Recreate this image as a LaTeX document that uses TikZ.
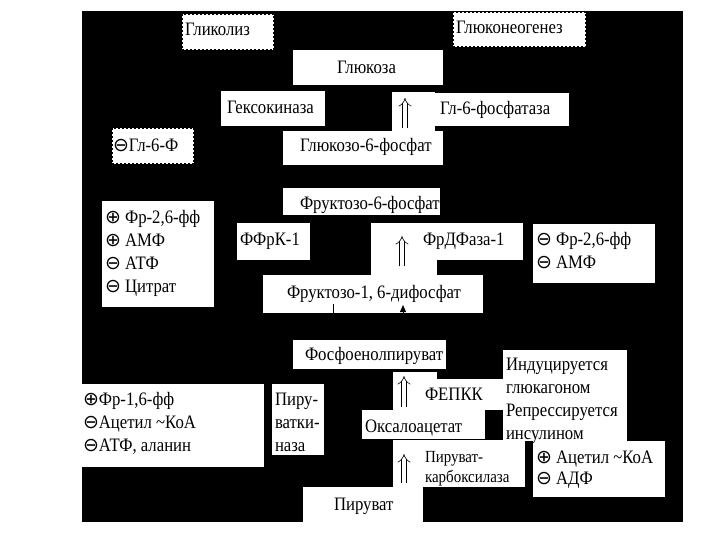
\documentclass[tikz,border=0pt]{standalone}
\usepackage{fontspec}
\setmainfont{Liberation Serif}[FakeStretch=0.88]
\newfontfamily\symf{DejaVu Sans}
\usetikzlibrary{arrows.meta}
\newcommand\pl{{\symf ⊕}}
\newcommand\mi{{\symf ⊖}}
\begin{document}
\begin{tikzpicture}[x=1pt,y=-1pt,
  font=\rmfamily\fontsize{19}{22}\selectfont,
  wbox/.style={fill=white, draw=none, inner sep=0pt, outer sep=0pt, anchor=north west},
  dbox/.style={wbox, draw=black, line width=1.4pt, dash pattern=on 2pt off 2pt},
  txt/.style={inner sep=0pt, outer sep=0pt, anchor=base west},
  small/.style={txt, font=\rmfamily\fontsize{17}{20}\selectfont},
  uparr/.style={double, double distance=4pt, line width=0.6pt, -{Implies}},
  conn/.style={line width=1pt}]
\useasboundingbox (0,0) rectangle (720,540);
\node[fill=black, inner sep=0pt, outer sep=0pt, anchor=north west, minimum width=601pt, minimum height=511pt] (bg) at (82,11) {};
% boxes
\node[dbox, minimum width=92pt, minimum height=36pt] (glyc) at (182,14) {};
\node[dbox, minimum width=133pt, minimum height=35pt] (gng) at (453,12) {};
\node[wbox, minimum width=150pt, minimum height=35pt] (glc) at (293,50) {};
\node[wbox, minimum width=104pt, minimum height=35pt] (hk) at (221,91) {};
\node[wbox, minimum width=43pt, minimum height=39pt] (g6pa) at (392,92) {};
\node[wbox, minimum width=144pt, minimum height=33pt] (g6pb) at (425,93) {};
\node[wbox, minimum width=160pt, minimum height=34pt] (g6p) at (283,131) {};
\node[dbox, minimum width=82pt, minimum height=36pt] (inh) at (112,128) {};
\node[wbox, minimum width=157pt, minimum height=27pt] (f6p) at (283,188) {};
\node[wbox, minimum width=112pt, minimum height=106pt] (lreg) at (102,201) {};
\node[wbox, minimum width=73pt, minimum height=37pt] (pfk) at (237,223) {};
\node[wbox, minimum width=66pt, minimum height=52pt] (fbpa) at (371,223) {};
\node[wbox, minimum width=152pt, minimum height=37pt] (fbpb) at (371,223) {};
\node[wbox, minimum width=122pt, minimum height=59pt] (rreg) at (533,224) {};
\node[wbox, minimum width=220pt, minimum height=38pt] (f16) at (263,275) {};
\node[wbox, minimum width=153pt, minimum height=29pt] (pep) at (293,340) {};
\node[wbox, minimum width=124pt, minimum height=91pt] (ind) at (503,350) {};
\node[wbox, minimum width=182pt, minimum height=83pt] (lreg2) at (82,384) {};
\node[wbox, minimum width=52pt, minimum height=71pt] (pk) at (272,384) {};
\node[wbox, minimum width=44pt, minimum height=40pt] (pepcka) at (393,372) {};
\node[wbox, minimum width=78pt, minimum height=31pt] (pepckb) at (425,379) {};
\node[wbox, minimum width=123pt, minimum height=29pt] (oaa) at (362,410) {};
\node[wbox, minimum width=132pt, minimum height=47pt] (pc) at (393,440) {};
\node[wbox, minimum width=132pt, minimum height=56pt] (rreg2) at (533,441) {};
\node[wbox, minimum width=120pt, minimum height=36pt] (pyr) at (303,487) {};
% texts
\node[txt] (t1) at (185,36) {Гликолиз};
\node[txt] (t2) at (456,34) {Глюконеогенез};
\node[txt] (t3) at (337,74) {Глюкоза};
\node[txt] (t4) at (227,114) {Гексокиназа};
\node[txt] (t5) at (440,115) {Гл-6-фосфатаза};
\node[txt] (t6) at (300,152) {Глюкозо-6-фосфат};
\node[txt] (t7) at (113,152) {\mi Гл-6-Ф};
\node[txt] (t8) at (300,210) {Фруктозо-6-фосфат};
\node[txt] (t9) at (105,223) {\pl{} Фр-2,6-фф};
\node[txt] (t10) at (105,246) {\pl{} АМФ};
\node[txt] (t11) at (105,269) {\mi{} АТФ};
\node[txt] (t12) at (105,292) {\mi{} Цитрат};
\node[txt] (t13) at (240,245) {ФФрК-1};
\node[txt] (t14) at (423,245) {ФрДФаза-1};
\node[txt] (t15) at (536,245) {\mi{} Фр-2,6-фф};
\node[txt] (t16) at (536,268) {\mi{} АМФ};
\node[txt] (t17) at (287,298) {Фруктозо-1, 6-дифосфат};
\node[txt] (t18) at (305,360) {Фосфоенолпируват};
\node[txt] (t19) at (506,370) {Индуцируется};
\node[txt] (t20) at (506,393) {глюкагоном};
\node[txt] (t21) at (506,416) {Репрессируется};
\node[txt] (t22) at (506,439) {инсулином};
\node[txt] (t23) at (83,405) {\pl Фр-1,6-фф};
\node[txt] (t24) at (83,428) {\mi Ацетил \textasciitilde КоА};
\node[txt] (t25) at (83,451) {\mi АТФ, аланин};
\node[txt] (t26) at (275,405) {Пиру-};
\node[txt] (t27) at (275,428) {ватки-};
\node[txt] (t28) at (275,451) {наза};
\node[txt] (t29) at (425,400) {ФЕПКК};
\node[txt] (t30) at (365,432) {Оксалоацетат};
\node[small] (t31) at (425,462) {Пируват-};
\node[small] (t32) at (425,482) {карбоксилаза};
\node[txt] (t33) at (536,463) {\pl{} Ацетил \textasciitilde КоА};
\node[txt] (t34) at (536,484) {\mi{} АДФ};
\node[txt] (t35) at (334,510) {Пируват};
% double arrows
\coordinate (a1s) at (405,128); \coordinate (a1e) at (405,98);
\coordinate (a2s) at (402,266); \coordinate (a2e) at (402,236);
\coordinate (a3s) at (404,407); \coordinate (a3e) at (404,376);
\coordinate (a4s) at (404,483); \coordinate (a4e) at (404,454);
\draw[uparr] (a1s) -- (a1e);
\draw[uparr] (a2s) -- (a2e);
\draw[uparr] (a3s) -- (a3e);
\draw[uparr] (a4s) -- (a4e);
% connectors between F-1,6-BP and PEP
\coordinate (c1a) at (333,304); \coordinate (c1b) at (333,340);
\coordinate (c2a) at (403,340); \coordinate (c2b) at (403,305);
\draw[conn] (c1a) -- (c1b);
\draw[conn, -{Triangle[length=7pt,width=6pt]}] (c2a) -- (c2b);
\end{tikzpicture}
\end{document}
